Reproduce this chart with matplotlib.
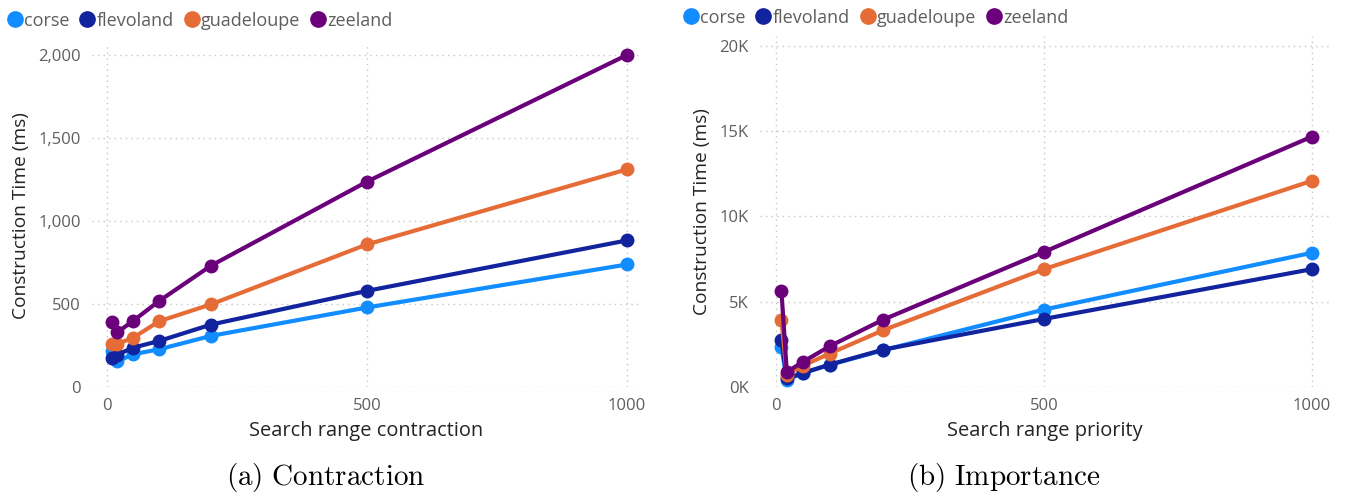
import matplotlib.pyplot as plt
import matplotlib.ticker as mticker
from matplotlib.lines import Line2D

plt.rcParams['font.family'] = ['Open Sans', 'DejaVu Sans']
plt.rcParams['mathtext.fontset'] = 'cm'

# search range values (x axis)
search_range = [10, 20, 50, 100, 200, 500, 1000]

# (a) contraction, construction time in ms
contr_corse = [215, 155, 197, 227, 308, 479, 738]
contr_flevoland = [172, 195, 237, 277, 376, 579, 883]
contr_guadeloupe = [257, 260, 296, 396, 498, 859, 1311]
contr_zeeland = [392, 330, 398, 518, 731, 1237, 2000]

# (b) importance, construction time in ms
imp_corse = [2350, 420, 820, 1300, 2160, 4540, 7870]
imp_flevoland = [2740, 500, 820, 1310, 2190, 3990, 6910]
imp_guadeloupe = [3920, 720, 1250, 1960, 3330, 6910, 12090]
imp_zeeland = [5640, 880, 1470, 2390, 3950, 7920, 14680]

names = ['corse', 'flevoland', 'guadeloupe', 'zeeland']
colors = ['#118DFF', '#12239E', '#E66C37', '#6B007B']

W, H = 1348, 497
fig = plt.figure(figsize=(W / 100, H / 100), dpi=100)


def box(x0, x1, ytop, ybot):
    return [x0 / W, 1 - ybot / H, (x1 - x0) / W, (ybot - ytop) / H]


ax1 = fig.add_axes(box(92, 640, 45, 387))
ax2 = fig.add_axes(box(760, 1330, 36, 387))

series_a = [contr_corse, contr_flevoland, contr_guadeloupe, contr_zeeland]
series_b = [imp_corse, imp_flevoland, imp_guadeloupe, imp_zeeland]

for ax, series in [(ax1, series_a), (ax2, series_b)]:
    for vals, c in zip(series, colors):
        ax.plot(search_range, vals, color=c, lw=3, marker='o', ms=9,
                clip_on=False, solid_capstyle='round')
    for s in ax.spines.values():
        s.set_visible(False)
    ax.grid(True, color='#C8C6C4', ls=(0, (1, 3)), lw=1)
    ax.set_axisbelow(True)
    ax.tick_params(length=0, labelsize=12, labelcolor='#605E5C', pad=8)
    ax.set_xticks([0, 500, 1000])
    ax.set_ylabel('Construction Time (ms)', fontsize=13.8, color='#252423', labelpad=6)

ax1.set_xlim(-29, 1025)
ax1.set_ylim(0, 2060)
ax1.set_yticks([0, 500, 1000, 1500, 2000])
ax1.yaxis.set_major_formatter(mticker.FuncFormatter(lambda v, p: f'{int(v):,}'))
ax1.set_xlabel('Search range contraction', fontsize=14.4, color='#252423', labelpad=5)

ax2.set_xlim(-30, 1034)
ax2.set_ylim(0, 20586)
ax2.set_yticks([0, 5000, 10000, 15000, 20000])
ax2.yaxis.set_major_formatter(mticker.FuncFormatter(lambda v, p: f'{int(v / 1000)}K'))
ax2.set_xlabel('Search range priority', fontsize=14.4, color='#252423', labelpad=5)

handles = [Line2D([], [], ls='', marker='o', ms=11, color=c) for c in colors]
for x0, y0 in [(-5, -1), (671, -4)]:
    fig.legend(handles, names, loc='upper left', bbox_to_anchor=(x0 / W, 1 - y0 / H),
               ncol=4, frameon=False, handlelength=0.8, handletextpad=0.1,
               columnspacing=0.6, fontsize=13, labelcolor='#605E5C', borderpad=0.2)

fig.text(326 / W, 1 - 478 / H, r'$\mathrm{(a)\ Contraction}$', fontsize=21,
         ha='center', va='center')
fig.text(1004 / W, 1 - 478 / H, r'$\mathrm{(b)\ Importance}$', fontsize=21,
         ha='center', va='center')

fig.savefig('out.png', dpi=100)
